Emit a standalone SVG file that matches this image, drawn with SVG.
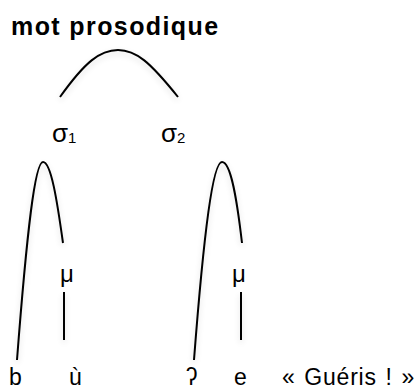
<svg xmlns="http://www.w3.org/2000/svg" width="419" height="391" viewBox="0 0 419 391">
<defs>
<filter id="sh" x="-50%" y="-50%" width="200%" height="200%">
<feGaussianBlur in="SourceAlpha" stdDeviation="3"/>
<feOffset dx="0" dy="3" result="b"/>
<feComponentTransfer><feFuncA type="linear" slope="0.15"/></feComponentTransfer>
<feMerge><feMergeNode/><feMergeNode in="SourceGraphic"/></feMerge>
</filter>
</defs>
<style>
text{font-family:"Liberation Sans",Arial,sans-serif;fill:#000}
.t{font-size:25px;font-weight:bold;letter-spacing:1.4px}
.s{font-size:26px}
.m{font-size:24px}
.l{font-size:23px}
.g{font-size:23px;letter-spacing:0.8px;word-spacing:1.5px}
.sub{font-size:15px}
.c{fill:none;stroke:#000;stroke-width:2;stroke-linecap:butt}
</style>
<rect width="419" height="391" fill="#fff"/>
<g id="title"><text class="t" x="11" y="35">mot prosodique</text></g>
<g id="sigma1"><text class="s" x="52" y="142">σ<tspan class="sub" dy="1">1</tspan></text></g>
<g id="sigma2"><text class="s" x="161" y="142">σ<tspan class="sub" dy="1">2</tspan></text></g>
<g id="mu1"><text class="m" x="60" y="282">μ</text></g>
<g id="mu2"><text class="m" x="232" y="282">μ</text></g>
<g id="b"><text class="l" x="9" y="385">b</text></g>
<g id="u"><text class="l" x="69" y="385">ù</text></g>
<g id="glottal"><text class="l" x="186" y="385">ʔ</text></g>
<g id="e"><text class="l" x="234" y="385">e</text></g>
<g id="gloss"><text class="g" x="282" y="385">« Guéris ! »</text></g>
<g id="connectors" filter="url(#sh)">
<path class="c" d="M60,97 C85,62 100,50 118,50 C136,50 150,62 178,97"/>
<path class="c" d="M17,360 C27,230 35,162 43,162 C51,162 57,200 63,243"/>
<path class="c" d="M194,360 C204,230 213,162 222,162 C231,162 237,200 242,243"/>
<path class="c" d="M64,292 V340"/>
<path class="c" d="M241,292 V340"/>
</g>
</svg>
